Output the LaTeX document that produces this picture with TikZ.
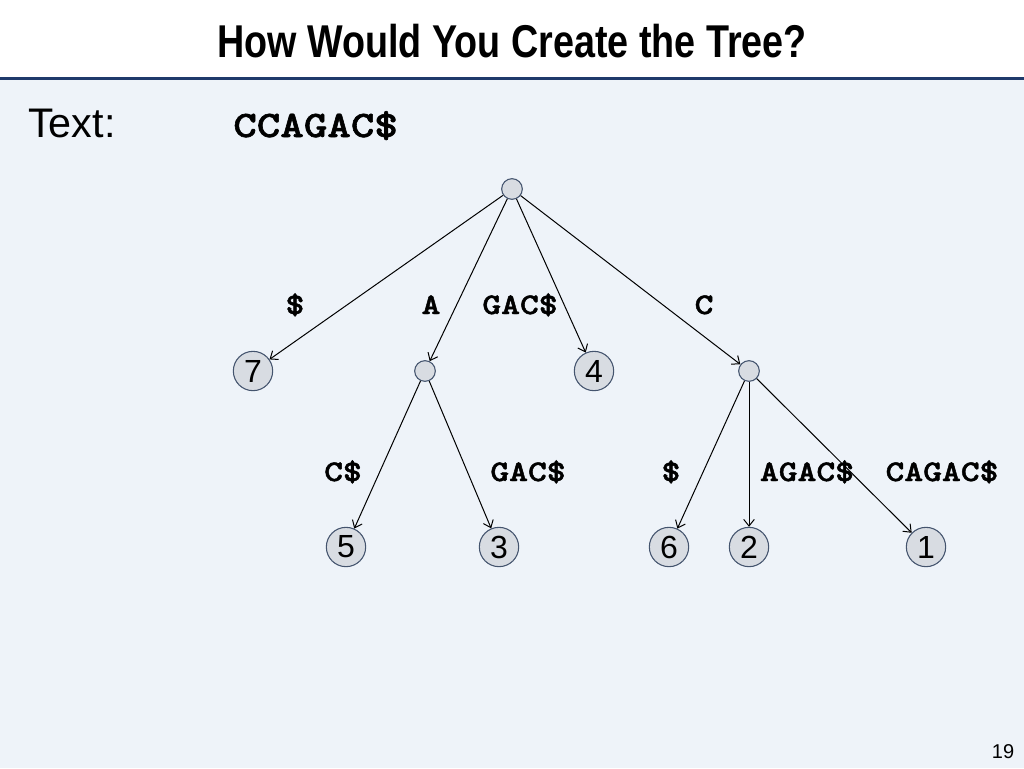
\documentclass[tikz,border=0pt]{standalone}
\usepackage{fontspec}
\setmainfont{Liberation Sans}
\newfontfamily\titlefont[FakeStretch=0.82]{Liberation Sans}
\newfontfamily\monofont[FakeStretch=1.2,FakeBold=1.6]{lmmonolt10-bold.otf}
\usetikzlibrary{arrows.meta}
\definecolor{bodybg}{HTML}{EEF3F9}
\definecolor{rulecol}{HTML}{1F3A6B}
\definecolor{nodefill}{HTML}{D8DCE2}
\definecolor{nodeline}{HTML}{44546E}
\begin{document}
\begin{tikzpicture}[x=0.75pt,y=-0.75pt,
  inner/.style={circle,draw=nodeline,fill=nodefill,line width=0.8pt,minimum size=15.5pt,inner sep=0pt},
  leaf/.style={circle,draw=nodeline,fill=nodefill,line width=0.8pt,minimum size=29.5pt,inner sep=0pt,font=\fontsize{24}{24}\selectfont},
  edge/.style={draw=black,line width=0.75pt,-{Straight Barb[length=5pt,width=8pt]}},
  elabel/.style={font=\monofont\fontsize{22.4}{24}\selectfont,inner sep=0pt,anchor=base}]
\useasboundingbox (0,0) rectangle (1024,768);
\fill[white] (0,0) rectangle (1024,78);
\fill[bodybg] (0,78) rectangle (1024,768);
\draw[rulecol,line width=1.6pt] (0,78.5) -- (1024,78.5);
\node[anchor=base,inner sep=0pt,font=\titlefont\bfseries\fontsize{34.5}{36}\selectfont] (title) at (512,57) {How Would You Create the Tree?};
\node[anchor=base west,inner sep=0pt,font=\fontsize{31}{32}\selectfont] (textlbl) at (28,137) {Text:};
\node[anchor=base west,inner sep=0pt,font=\monofont\fontsize{28}{30}\selectfont] (textval) at (233,137) {CCAGAC\$};
% nodes
\node[inner] (root) at (512,189) {};
\node[inner] (nA) at (425,371) {};
\node[inner] (nC) at (749,371) {};
\node[leaf] (l7) at (253,371) {7};
\node[leaf] (l4) at (594,371) {4};
\node[leaf] (l5) at (346,547) {5};
\node[leaf] (l3) at (499,547) {3};
\node[leaf] (l6) at (669,547) {6};
\node[leaf] (l2) at (749,547) {2};
\node[leaf] (l1) at (926,547) {1};
% edges
\draw[edge] (root) -- (l7);
\draw[edge] (root) -- (nA);
\draw[edge] (root) -- (l4);
\draw[edge] (root) -- (nC);
\draw[edge] (nA) -- (l5);
\draw[edge] (nA) -- (l3);
\draw[edge] (nC) -- (l6);
\draw[edge] (nC) -- (l2);
\draw[edge] (nC) -- (l1);
% edge labels
\node[elabel] (e1) at (295,314) {\$};
\node[elabel] (e2) at (431,314) {A};
\node[elabel] (e3) at (520,314) {GAC\$};
\node[elabel] (e4) at (704,314) {C};
\node[elabel] (e5) at (343,481) {C\$};
\node[elabel] (e6) at (528,481) {GAC\$};
\node[elabel] (e7) at (671,481) {\$};
\node[elabel] (e8) at (807,481) {AGAC\$};
\node[elabel] (e9) at (942,481) {CAGAC\$};
\node[anchor=base,inner sep=0pt,font=\fontsize{15}{16}\selectfont] (pg) at (1003,758) {19};
\end{tikzpicture}
\end{document}
